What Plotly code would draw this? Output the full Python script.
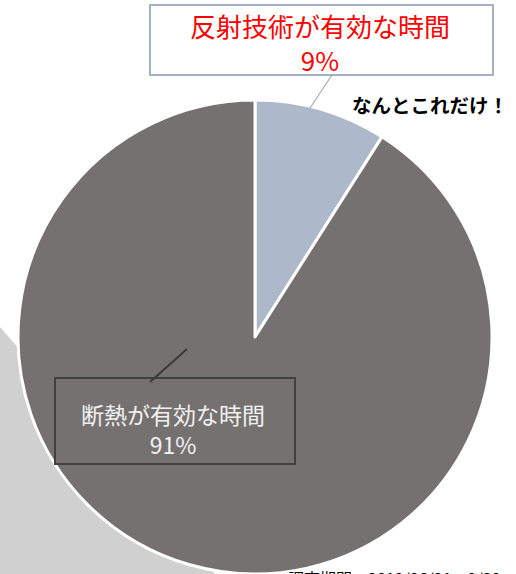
import plotly.graph_objects as go

# Data
labels = ["反射技術が有効な時間", "断熱が有効な時間"]
values = [9, 91]
colors = ["#ADB9CA", "#767171"]
label_texts = ["反射技術が有効な時間<br>9%", "断熱が有効な時間<br>91%"]
callout = "なんとこれだけ！"
footnote = "調査期間　2019/06/21～9/30"

W, H = 516, 574
def X(px):
    return px / W
def Y(py):
    return 1 - py / H

fig = go.Figure()
fig.add_trace(go.Pie(
    labels=labels, values=values, sort=False, direction="clockwise", rotation=0,
    marker=dict(colors=colors, line=dict(color="white", width=3)),
    textinfo="none", hoverinfo="label+percent", showlegend=False,
    domain=dict(x=[X(18), X(492)], y=[0, 0.826]),
))

shapes = []
# light gray background shadow
shapes.append(dict(type="path", xref="paper", yref="paper", layer="below",
                   path=f"M {X(0)},{Y(327)} L {X(215)},{Y(574)} L {X(0)},{Y(574)} Z",
                   fillcolor="#D0D0D0", line=dict(width=0)))
# top label box
shapes.append(dict(type="rect", xref="paper", yref="paper",
                   x0=X(150), x1=X(493), y0=Y(5), y1=Y(75),
                   fillcolor="white", line=dict(color="#A3B1C5", width=2)))
shapes.append(dict(type="line", xref="paper", yref="paper",
                   x0=X(332), y0=Y(75), x1=X(310), y1=Y(108),
                   line=dict(color="#8496B0", width=1)))
# bottom-left label box
shapes.append(dict(type="rect", xref="paper", yref="paper",
                   x0=X(55), x1=X(295), y0=Y(378), y1=Y(464),
                   line=dict(color="#404040", width=2)))
shapes.append(dict(type="line", xref="paper", yref="paper",
                   x0=X(150), y0=Y(382), x1=X(187), y1=Y(349),
                   line=dict(color="#3A3A3A", width=2)))

font_family = "Noto Sans CJK JP"
annotations = [
    dict(text=label_texts[0], x=X(320), y=Y(43), xref="paper", yref="paper",
         showarrow=False, xanchor="center", yanchor="middle",
         font=dict(family=font_family, size=26, color="#FF0000")),
    dict(text=f"<b>{callout}</b>", x=X(350), y=Y(104), xref="paper", yref="paper",
         showarrow=False, xanchor="left", yanchor="middle",
         font=dict(family=font_family, size=19.5, color="#000000")),
    dict(text=label_texts[1], x=X(173), y=Y(429), xref="paper", yref="paper",
         showarrow=False, xanchor="center", yanchor="middle",
         font=dict(family=font_family, size=23, color="#F2F2F2")),
    dict(text=footnote, x=X(286), y=Y(564), xref="paper", yref="paper",
         showarrow=False, xanchor="left", yanchor="top",
         font=dict(family=font_family, size=16, color="#000000")),
]

fig.update_layout(
    width=W, height=H, margin=dict(l=0, r=0, t=0, b=0),
    paper_bgcolor="white", plot_bgcolor="white",
    shapes=shapes, annotations=annotations,
)
fig.write_html("out.html", config={"displayModeBar": False},
               post_script="document.body.style.margin='0';document.body.style.overflow='hidden';")
